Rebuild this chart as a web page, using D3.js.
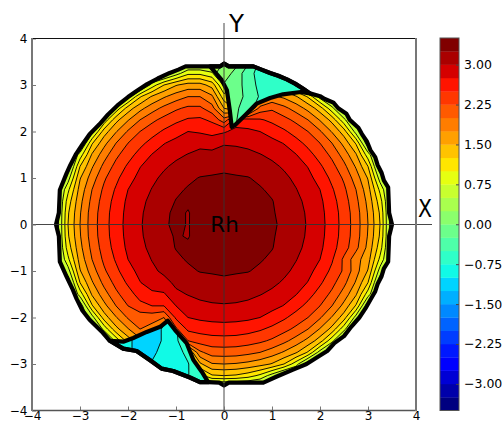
<!DOCTYPE html>
<html>
<head>
<meta charset="utf-8">
<script src="https://cdn.jsdelivr.net/npm/d3@7"></script>
<style>
  html, body { margin: 0; padding: 0; background: #fff; }
  text { font-family: "DejaVu Sans"; fill: #000; }
</style>
</head>
<body>
<svg id="chart" width="504" height="424"></svg>
<script>
// contour levels and tick labels
let levelMin = -3.5, levelStep = 0.25, levelCount = 28;
let barTicks = [3, 2.25, 1.5, 0.75, 0, -0.75, -1.5, -2.25, -3];
let axisTicks = [-4, -3, -2, -1, 0, 1, 2, 3, 4];

// main surface, rows y = 3.5 .. -3.5, columns x = -3.5 .. 3.5, step 0.25
let mainX = [-3.5, 3.5];
let mainY = [3.5, -3.5];
let mainGrid = [
[.3,.3,.3,.3,.3,.3,.3,.3,.3,.3,.3,.3,.3,.3,.3,.3,.3,.3,.3,.3,.3,.3,.3,.3,.3,.3,.3,.3,.3],
[.3,.3,.3,.3,.3,.3,.3,.3,.3,.3,.63,.94,.94,.8,.2,1.22,1.12,.94,.63,.3,.3,.3,.3,.3,.3,.3,.3,.3,.3],
[.3,.3,.3,.3,.3,.3,.3,.3,.86,1.25,1.48,1.6,1.6,1.4,.7,1.0,1.0,1.6,1.48,1.25,.86,.3,.3,.3,.3,.3,.3,.3,.3],
[.3,.3,.3,.3,.3,.3,.63,1.22,1.53,1.72,1.88,2.0,2.0,1.8,1.1,1.0,1.0,1.5,1.8,1.7,1.53,1.22,.63,.3,.3,.3,.3,.3,.3],
[.3,.3,.3,.3,.3,.82,1.37,1.67,1.89,2.07,2.21,2.3,2.3,2.1,1.5,1.2,1.3,2.1,2.21,2.07,1.89,1.67,1.37,.82,.3,.3,.3,.3,.3],
[.3,.3,.3,.3,.82,1.42,1.73,2.0,2.19,2.33,2.44,2.53,2.55,2.45,2.1,2.62,2.6,2.53,2.44,2.33,2.19,2.0,1.73,1.42,.82,.3,.3,.3,.3],
[.3,.3,.3,.63,1.37,1.73,2.03,2.25,2.4,2.54,2.66,2.75,2.72,2.68,2.72,2.82,2.8,2.75,2.66,2.54,2.4,2.25,2.03,1.73,1.37,.63,.3,.3,.3],
[.3,.3,.3,1.22,1.67,2.0,2.25,2.43,2.59,2.74,2.82,2.89,2.94,2.88,2.98,2.97,2.94,2.89,2.82,2.74,2.59,2.43,2.25,2.0,1.67,1.22,.3,.3,.3],
[.3,.3,.86,1.53,1.89,2.19,2.4,2.59,2.76,2.86,2.95,3.01,3.06,3.08,3.09,3.08,3.06,3.01,2.95,2.86,2.76,2.59,2.4,2.19,1.89,1.53,.86,.3,.3],
[.3,.3,1.25,1.72,2.07,2.33,2.54,2.74,2.86,2.97,3.05,3.11,3.16,3.19,3.21,3.19,3.16,3.11,3.05,2.97,2.86,2.74,2.54,2.33,2.07,1.72,1.25,.3,.3],
[.3,.63,1.48,1.88,2.21,2.44,2.66,2.82,2.95,3.05,3.13,3.21,3.26,3.27,3.28,3.27,3.26,3.21,3.13,3.05,2.95,2.82,2.66,2.44,2.21,1.88,1.48,.63,.3],
[.3,.94,1.6,2.0,2.3,2.53,2.75,2.89,3.01,3.11,3.21,3.27,3.29,3.31,3.32,3.31,3.29,3.27,3.21,3.11,3.01,2.89,2.75,2.53,2.3,2.0,1.6,.94,.3],
[.3,1.12,1.68,2.07,2.36,2.59,2.8,2.94,3.06,3.16,3.26,3.29,3.33,3.35,3.36,3.35,3.33,3.29,3.26,3.16,3.06,2.94,2.8,2.59,2.36,2.07,1.68,1.12,.3],
[.3,1.22,1.73,2.12,2.39,2.63,2.82,2.97,3.08,3.19,3.31,3.235,3.35,3.39,3.41,3.39,3.35,3.31,3.27,3.19,3.08,2.97,2.82,2.63,2.39,2.12,1.73,1.22,.3],
[.3,1.25,1.75,2.13,2.4,2.64,2.83,2.98,3.09,3.21,3.31,3.235,3.36,3.41,3.45,3.41,3.36,3.32,3.28,3.21,3.09,2.98,2.83,2.64,2.4,2.13,1.75,1.25,.3],
[.3,1.22,1.73,2.12,2.39,2.63,2.82,2.97,3.08,3.19,3.27,3.235,3.35,3.39,3.41,3.39,3.35,3.31,3.27,3.19,3.08,2.97,2.82,2.63,2.39,2.12,1.73,1.22,.3],
[.3,1.12,1.68,2.07,2.36,2.59,2.8,2.94,3.06,3.16,3.26,3.29,3.33,3.35,3.36,3.35,3.33,3.29,3.26,3.16,3.06,2.94,2.8,2.59,2.36,2.07,1.68,1.12,.3],
[.3,.94,1.6,2.0,2.3,2.53,2.75,2.89,3.01,3.11,3.21,3.27,3.29,3.31,3.32,3.31,3.29,3.27,3.21,3.11,3.01,2.89,2.75,2.53,2.2,1.85,1.6,.94,.3],
[.3,.63,1.48,1.88,2.21,2.44,2.66,2.82,2.95,3.05,3.13,3.21,3.26,3.27,3.28,3.27,3.26,3.21,3.13,3.05,2.95,2.82,2.66,2.44,2.21,1.85,1.48,.63,.3],
[.3,.3,1.25,1.72,2.07,2.33,2.54,2.74,2.86,2.92,3.05,3.11,3.16,3.19,3.21,3.19,3.16,3.11,3.05,2.97,2.86,2.74,2.54,2.33,2.07,1.72,1.25,.3,.3],
[.3,.3,.86,1.53,1.89,2.19,2.4,2.59,2.7,2.72,2.95,3.01,3.06,3.08,3.09,3.08,3.06,3.01,2.95,2.86,2.76,2.59,2.4,2.19,1.89,1.53,.86,.3,.3],
[.3,.3,.3,1.22,1.67,2.0,2.25,2.43,2.5,2.5,2.75,2.89,2.94,2.97,2.98,2.97,2.94,2.89,2.82,2.74,2.59,2.43,2.25,2.0,1.67,1.22,.3,.3,.3],
[.3,.3,.3,.63,1.37,1.73,2.03,2.1,2.1,2.0,2.55,2.75,2.8,2.82,2.83,2.82,2.8,2.75,2.66,2.54,2.4,2.25,2.03,1.73,1.37,.63,.3,.3,.3],
[.3,.3,.3,.3,.82,1.42,1.73,2.0,1.9,1.7,2.2,2.55,2.59,2.63,2.64,2.63,2.59,2.53,2.44,2.33,2.19,2.0,1.73,1.42,.82,.3,.3,.3,.3],
[.3,.3,.3,.3,.3,.82,1.37,1.67,1.6,1.5,1.5,2.25,2.36,2.39,2.4,2.39,2.36,2.3,2.21,2.07,1.89,1.67,1.37,.82,.3,.3,.3,.3,.3],
[.3,.3,.3,.3,.3,.3,.63,1.22,1.53,1.72,1.88,1.2,1.95,2.12,2.13,2.12,2.07,2.0,1.88,1.72,1.53,1.22,.63,.3,.3,.3,.3,.3,.3],
[.3,.3,.3,.3,.3,.3,.3,.3,.86,1.25,1.48,1.6,1.45,1.73,1.75,1.73,1.68,1.6,1.48,1.25,.86,.3,.3,.3,.3,.3,.3,.3,.3],
[.3,.3,.3,.3,.3,.3,.3,.3,.3,.3,.63,.94,.9,1.22,1.25,1.22,1.12,.94,.63,.3,.3,.3,.3,.3,.3,.3,.3,.3,.3],
[.3,.3,.3,.3,.3,.3,.3,.3,.3,.3,.3,.3,.3,.3,.3,.3,.3,.3,.3,.3,.3,.3,.3,.3,.3,.3,.3,.3,.3]
];

// upper notch surface, rows y = 3.5 .. 2, columns x = -0.5 .. 2
let upperX = [-0.5, 2];
let upperY = [3.5, 2];
let upperGrid = [
[.35,.3,.25,.1,-.2,-.55,-.65,-.7,-.7,-.7,-.7],
[.35,.3,.15,-.1,-.4,-.6,-.65,-.7,-.7,-.7,-.7],
[.25,.1,-.03,-.15,-.35,-.58,-.65,-.7,-.7,-.72,-.72],
[.1,0,-.05,-.18,-.3,-.53,-.65,-.7,-.7,-.8,-.8],
[0,-.05,-.1,-.2,-.42,-.6,-.7,-.7,-.7,-.8,-.8],
[0,-.05,-.1,-.23,-.5,-.65,-.7,-.7,-.7,-.8,-.8],
[0,-.05,-.1,-.23,-.5,-.65,-.7,-.7,-.7,-.8,-.8]
];

// lower notch surface, rows y = -2 .. -3.5, columns x = -2.5 .. -0.25
let lowerX = [-2.5, -0.25];
let lowerY = [-2, -3.5];
let lowerGrid = [
[-.6,-.7,-.9,-1.1,-1.1,-1.05,-.78,-.65,-.6,-.5],
[-.6,-.72,-.95,-1.1,-1.1,-.97,-.76,-.65,-.55,-.5],
[-.6,-.75,-.95,-1.1,-1.1,-.97,-.77,-.65,-.55,-.5],
[-.6,-.75,-.95,-1.1,-1.05,-.92,-.82,-.7,-.55,-.5],
[-.6,-.75,-.95,-1.1,-.98,-.9,-.85,-.76,-.6,-.5],
[-.6,-.75,-.95,-1.1,-.9,-.9,-.85,-.76,-.62,-.45],
[-.6,-.75,-.95,-1.1,-.9,-.9,-.85,-.76,-.62,-.45]
];

// edge of the sampled disc in data units
let rim = [
[-.08,3.4],[0,3.46],[.1,3.4],[.61,3.4],[.78,3.33],[.96,3.26],[1.13,3.2],[1.31,3.12],[1.48,3.03],[1.65,2.92],[1.79,2.82],
[2,2.76],[2.1,2.7],[2.28,2.62],[2.38,2.5],[2.55,2.38],[2.62,2.25],[2.8,2.08],[2.87,1.95],[2.98,1.78],[3.05,1.6],[3.15,1.45],[3.2,1.28],[3.28,1.12],[3.33,.95],[3.42,.8],[3.44,.25],[3.5,0],
[3.44,-.25],[3.42,-.8],[3.33,-.95],[3.28,-1.12],[3.2,-1.28],[3.15,-1.44],[3.05,-1.62],[2.95,-1.8],[2.82,-2],[2.65,-2.2],[2.5,-2.4],[2.3,-2.55],[2.15,-2.72],[1.95,-2.85],[1.72,-3],[1.44,-3.12],[1.1,-3.27],[.82,-3.4],[.1,-3.4],[0,-3.46],
[-.1,-3.4],[-.33,-3.39],[-.5,-3.39],[-.71,-3.29],[-1.06,-3.15],[-1.3,-3.1],[-1.54,-2.92],[-1.82,-2.72],[-2.1,-2.67],[-2.38,-2.5],[-2.55,-2.3],[-2.8,-2.05],[-2.95,-1.85],[-3.07,-1.6],[-3.15,-1.4],[-3.28,-1.12],[-3.42,-.8],[-3.44,-.25],[-3.5,0],
[-3.44,.25],[-3.42,.74],[-3.28,1.1],[-3.2,1.28],[-3.08,1.52],[-2.95,1.72],[-2.8,1.94],[-2.6,2.15],[-2.42,2.36],[-2.22,2.56],[-2,2.74],[-1.82,2.87],[-1.6,3.02],[-1.38,3.14],[-1.13,3.26],[-.95,3.33],[-.8,3.4],[-.29,3.4]
];

// the two notches where the surface drops off
let upperNotch = [
[-.29,3.4],[-.08,3.4],[0,3.46],[.1,3.4],[.61,3.4],[.78,3.33],[.96,3.26],[1.13,3.2],[1.31,3.12],[1.48,3.03],[1.65,2.92],[1.79,2.82],
[1.6,2.85],[1.23,2.8],[.96,2.72],[.68,2.6],[.44,2.35],[.23,2.14],[.16,2.1],[.12,2.46],[.06,2.89],[-.05,3.11]
];
let lowerNotch = [
[-1.17,-2.07],[-1.02,-2.27],[-.78,-2.55],[-.64,-2.91],[-.46,-3.17],[-.33,-3.39],[-.5,-3.39],[-.71,-3.29],[-1.06,-3.15],[-1.3,-3.1],[-1.54,-2.92],[-1.82,-2.72],[-2.1,-2.67],[-2.38,-2.5],
[-2.1,-2.52],[-1.89,-2.44],[-1.61,-2.31],[-1.33,-2.2]
];

let svg = d3.select("#chart");

let xScale = d3.scaleLinear().domain([-4, 4]).range([32, 416]);
let yScale = d3.scaleLinear().domain([-4, 4]).range([410.5, 38.5]);
let barScale = d3.scaleLinear().domain([-3.5, 3.5]).range([410.5, 38]);

// jet colormap, same break points as matplotlib
let jetR = d3.scaleLinear().domain([0, 0.35, 0.66, 0.89, 1]).range([0, 0, 1, 1, 0.5]);
let jetG = d3.scaleLinear().domain([0, 0.125, 0.375, 0.64, 0.91, 1]).range([0, 0, 1, 1, 0, 0]);
let jetB = d3.scaleLinear().domain([0, 0.11, 0.34, 0.65, 1]).range([0.5, 1, 1, 0, 0]);
function jet(t) {
  return d3.rgb(jetR(t) * 255, jetG(t) * 255, jetB(t) * 255).formatRgb();
}

let levels = d3.range(levelCount).map(function (k) { return levelMin + k * levelStep; });

function polyPath(points) {
  return d3.line()
    .x(function (d) { return xScale(d[0]); })
    .y(function (d) { return yScale(d[1]); })(points) + "Z";
}

// filled bands plus contour lines for one grid
function drawSurface(parent, grid, xEnds, yEnds) {
  let rows = grid.length, cols = grid[0].length;
  let gx = d3.scaleLinear().domain([0.5, cols - 0.5]).range(xEnds);
  let gy = d3.scaleLinear().domain([0.5, rows - 0.5]).range(yEnds);
  let path = d3.geoPath(d3.geoTransform({
    point: function (x, y) { this.stream.point(xScale(gx(x)), yScale(gy(y))); }
  }));
  let bands = d3.contours().size([cols, rows]).thresholds(levels)(grid.flat());

  parent.append("g").selectAll("path")
    .data(bands)
    .enter()
    .append("path")
    .attr("d", path)
    .attr("fill", function (d, i) { return jet(i / (levelCount - 1)); });

  parent.append("g").selectAll("path")
    .data(bands)
    .enter()
    .append("path")
    .attr("d", path)
    .attr("fill", "none")
    .attr("stroke", "#000")
    .attr("stroke-width", 0.9);
}

let defs = svg.append("defs");
defs.append("clipPath").attr("id", "mainClip")
  .append("path")
  .attr("clip-rule", "evenodd")
  .attr("d", polyPath(rim) + polyPath(upperNotch) + polyPath(lowerNotch));
defs.append("clipPath").attr("id", "upperClip").append("path").attr("d", polyPath(upperNotch));
defs.append("clipPath").attr("id", "lowerClip").append("path").attr("d", polyPath(lowerNotch));

drawSurface(svg.append("g").attr("clip-path", "url(#mainClip)"), mainGrid, mainX, mainY);
drawSurface(svg.append("g").attr("clip-path", "url(#upperClip)"), upperGrid, upperX, upperY);
drawSurface(svg.append("g").attr("clip-path", "url(#lowerClip)"), lowerGrid, lowerX, lowerY);

// heavy outlines where the contour lines pile up
svg.selectAll(".edge")
  .data([rim, upperNotch, lowerNotch])
  .enter()
  .append("path")
  .attr("class", "edge")
  .attr("d", polyPath)
  .attr("fill", "none")
  .attr("stroke", "#000")
  .attr("stroke-width", 4.2)
  .attr("stroke-linejoin", "round");

// axes crossing at the centre
svg.append("line")
  .attr("x1", xScale(0)).attr("x2", xScale(0))
  .attr("y1", 23).attr("y2", yScale(-4))
  .attr("stroke", "#333").attr("stroke-width", 0.9);
svg.append("line")
  .attr("x1", xScale(-4)).attr("x2", 432)
  .attr("y1", yScale(0)).attr("y2", yScale(0))
  .attr("stroke", "#333").attr("stroke-width", 0.9);

// ticks and frame
let axisBottom = d3.axisBottom(xScale).tickValues(axisTicks).tickSize(-4).tickPadding(1);
let axisLeft = d3.axisLeft(yScale).tickValues(axisTicks).tickSize(-4).tickPadding(4.5);

let gx = svg.append("g").attr("transform", "translate(0,410.5)").call(axisBottom);
let gy = svg.append("g").attr("transform", "translate(32,0)").call(axisLeft);
gx.select(".domain").remove();
gy.select(".domain").remove();
svg.selectAll(".tick line").attr("stroke", "#777");
svg.selectAll(".tick text").style("font-family", "DejaVu Sans").style("font-size", "12px").attr("fill", "#000");

svg.append("line").attr("x1", 32).attr("x2", 416).attr("y1", 38.5).attr("y2", 38.5).attr("stroke", "#111").attr("stroke-width", 1);
svg.append("line").attr("x1", 32).attr("x2", 416).attr("y1", 410.5).attr("y2", 410.5).attr("stroke", "#555").attr("stroke-width", 1.4);
svg.append("line").attr("x1", 32).attr("x2", 32).attr("y1", 38).attr("y2", 411).attr("stroke", "#777").attr("stroke-width", 2);
svg.append("line").attr("x1", 416).attr("x2", 416).attr("y1", 38).attr("y2", 411).attr("stroke", "#777").attr("stroke-width", 2);

svg.append("text").attr("x", 236.5).attr("y", 32).attr("text-anchor", "middle").style("font-size", "24.5px").text("Y");
svg.append("text").attr("x", 425).attr("y", 217).attr("text-anchor", "middle").style("font-size", "24.5px")
  .attr("textLength", 14).attr("lengthAdjust", "spacingAndGlyphs").text("X");
svg.append("text").attr("x", 224.5).attr("y", 232).attr("text-anchor", "middle").style("font-size", "21.5px").text("Rh");

// colorbar
svg.selectAll(".band")
  .data(levels)
  .enter()
  .append("rect")
  .attr("class", "band")
  .attr("x", 440)
  .attr("width", 19)
  .attr("y", function (d) { return barScale(d + levelStep); })
  .attr("height", function (d) { return barScale(d) - barScale(d + levelStep) + 0.3; })
  .attr("fill", function (d, i) { return jet(i / (levelCount - 1)); });

let barAxis = d3.axisRight(barScale)
  .tickValues(barTicks)
  .tickFormat(d3.format(".2f"))
  .tickSize(-3)
  .tickPadding(5);
let gBar = svg.append("g").attr("transform", "translate(459,0)").call(barAxis);
gBar.select(".domain").remove();
gBar.selectAll(".tick line").attr("stroke", "#444");
gBar.selectAll(".tick text").style("font-family", "DejaVu Sans").style("font-size", "12.5px").attr("fill", "#000");

svg.append("rect").attr("x", 440).attr("y", 38).attr("width", 19).attr("height", 372.5)
  .attr("fill", "none").attr("stroke", "#555").attr("stroke-width", 1);
</script>
</body>
</html>
